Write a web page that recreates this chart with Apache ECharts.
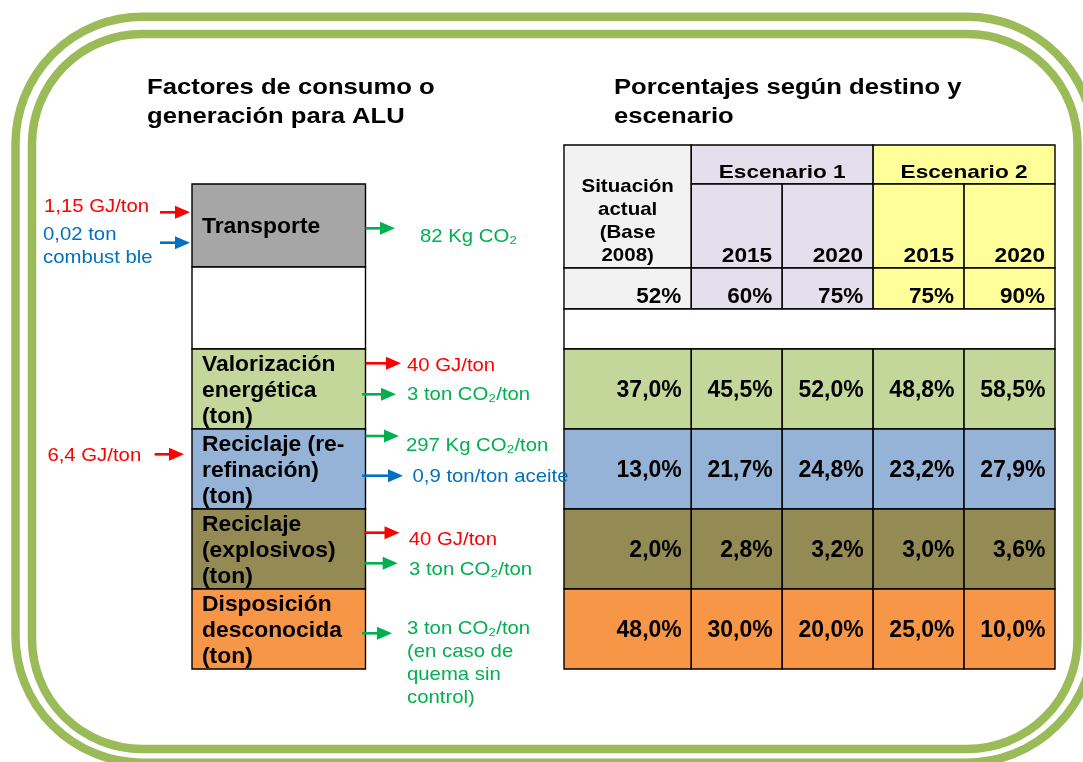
<!DOCTYPE html>
<html><head><meta charset="utf-8">
<script src="https://cdn.jsdelivr.net/npm/echarts@6/dist/echarts.min.js"></script>
<style>html,body{margin:0;padding:0;background:#fff}#c{width:1083px;height:762px}</style>
</head><body><div id="c"></div>
<script>
// ---------------- DATA ----------------
const titulos = ['Factores de consumo o\ngeneración para ALU', 'Porcentajes según destino y\nescenario'];
const etapaTransporte = 'Transporte';
const destinos = ['Valorización\nenergética\n(ton)', 'Reciclaje (re-\nrefinación)\n(ton)', 'Reciclaje\n(explosivos)\n(ton)', 'Disposición\ndesconocida\n(ton)'];
const situacionActual = 'Situación\nactual\n(Base\n2008)';
const escenarios = ['Escenario 1', 'Escenario 2'];
const anios = ['2015', '2020', '2015', '2020'];
const porcentajeRecuperado = [52, 60, 75, 75, 90];
const valorizacionEnergetica = [37.0, 45.5, 52.0, 48.8, 58.5];
const reciclajeRefinacion = [13.0, 21.7, 24.8, 23.2, 27.9];
const reciclajeExplosivos = [2.0, 2.8, 3.2, 3.0, 3.6];
const disposicionDesconocida = [48.0, 30.0, 20.0, 25.0, 10.0];
const entradasTransporte = ['1,15 GJ/ton', '0,02 ton\ncombust ble'];
const salidasTransporte = ['82 Kg CO₂'];
const salidasValorizacion = ['40 GJ/ton', '3 ton CO₂/ton'];
const entradasRefinacion = ['6,4 GJ/ton'];
const salidasRefinacion = ['297 Kg CO₂/ton', '0,9 ton/ton aceite'];
const salidasExplosivos = ['40 GJ/ton', '3 ton CO₂/ton'];
const salidasDisposicion = ['3 ton CO₂/ton\n(en caso de\nquema sin\ncontrol)'];

// ---------------- STYLE / LAYOUT ----------------
const FONT = '"Liberation Sans", Arial, Helvetica, sans-serif';
const RED = '#FF0000', BLUE = '#0070C0', GREEN = '#00B050', FRAME = '#9BBB59';
const rowColors = ['#C4D79B', '#95B3D7', '#948A54', '#F79646'];
const scenColors = ['#E4DFEC', '#FFFF99'];
const baseColor = '#F2F2F2';
const colEdges = [0, 1.4, 2.4, 3.4, 4.4, 5.4];
const rowEdges = [0, 0.975, 3.075, 4.1, 5.1, 7.1, 9.1, 11.1, 13.1];
const MID = 0.27;

function fmt(v) { return v.toFixed(1).replace('.', ',') + '%'; }

function txt(x, baseline, text, o) {
  const fs = o.fs, lh = o.lh || Math.round(fs * 1.2);
  const n = String(text).split('\n').length;
  const al = o.align || 'left';
  return {
    type: 'text', x: x, y: baseline - MID * fs + (n - 1) * lh / 2, scaleX: o.sx || 1, z: o.z || 100,
    style: {
      text: text, fontFamily: FONT, fontSize: fs, fontWeight: o.bold ? 'bold' : 'normal',
      fill: o.color || '#000', align: al, textAlign: al,
      verticalAlign: 'middle', textVerticalAlign: 'middle', lineHeight: lh
    }
  };
}
function arrow(x0, x1, y, color) {
  const hl = 15, hw = 6.5;
  return {
    type: 'group', z: 100, children: [
      { type: 'line', z: 100, shape: { x1: x0, y1: y, x2: x1 - hl + 1, y2: y }, style: { stroke: color, lineWidth: 2.6 } },
      { type: 'polygon', z: 100, shape: { points: [[x1 - hl, y - hw], [x1, y], [x1 - hl, y + hw]] }, style: { fill: color } }
    ]
  };
}

// ---------------- TABLE CELLS (built from data) ----------------
const tableCells = [];
tableCells.push({ c0: 0, c1: 1, r0: 0, r1: 2, fill: baseColor, text: situacionActual, kind: 'sit' });
escenarios.forEach((e, i) => tableCells.push({ c0: 1 + 2 * i, c1: 3 + 2 * i, r0: 0, r1: 1, fill: scenColors[i], text: e, kind: 'esc' }));
anios.forEach((a, i) => tableCells.push({ c0: 1 + i, c1: 2 + i, r0: 1, r1: 2, fill: scenColors[Math.floor(i / 2)], text: a, kind: 'year' }));
porcentajeRecuperado.forEach((v, i) => tableCells.push({ c0: i, c1: i + 1, r0: 2, r1: 3, fill: i === 0 ? baseColor : scenColors[Math.floor((i - 1) / 2)], text: v + '%', kind: 'pct' }));
tableCells.push({ c0: 0, c1: 5, r0: 3, r1: 4, fill: '#FFFFFF', text: '', kind: 'blank' });
[valorizacionEnergetica, reciclajeRefinacion, reciclajeExplosivos, disposicionDesconocida].forEach((arr, r) =>
  arr.forEach((v, i) => tableCells.push({ c0: i, c1: i + 1, r0: 4 + r, r1: 5 + r, fill: rowColors[r], text: fmt(v), kind: 'val' })));

// left column boxes
const leftBoxes = [{ y0: 0.975, y1: 3.05, fill: '#A6A6A6', text: etapaTransporte }, { y0: 3.05, y1: rowEdges[4], fill: '#FFFFFF', text: '' }];
destinos.forEach((d, r) => leftBoxes.push({ y0: rowEdges[4 + r], y1: rowEdges[5 + r], fill: rowColors[r], text: d }));

function tableText(c, x, y, w, h) {
  switch (c.kind) {
    case 'sit': return txt(x + w / 2, y + 47, c.text, { fs: 19, lh: 23, bold: true, align: 'center', sx: 1.08 });
    case 'esc': return txt(x + w / 2, y + 32.7, c.text, { fs: 19, bold: true, align: 'center', sx: 1.19 });
    case 'year': return txt(x + w - 10, y + 78, c.text, { fs: 21, bold: true, align: 'right', sx: 1.08 });
    case 'pct': return txt(x + w - 10, y + 35.3, c.text, { fs: 22.5, bold: true, align: 'right' });
    case 'val': return txt(x + w - 9.5, y + 47.7, c.text, { fs: 23, bold: true, align: 'right' });
  }
  return null;
}

// ---------------- GRAPHICS ----------------
const graphics = [
  { type: 'rect', z: 0, shape: { x: 32, y: 34, width: 1045.5, height: 715, r: 110 }, style: { fill: 'none', stroke: FRAME, lineWidth: 8.5 } },
  { type: 'rect', z: 0, shape: { x: 15.5, y: 16.7, width: 1078.5, height: 746, r: 127 }, style: { fill: 'none', stroke: FRAME, lineWidth: 8.5 } },
  txt(147, 94, titulos[0], { fs: 22, lh: 29, bold: true, sx: 1.165 }),
  txt(614, 94, titulos[1], { fs: 22, lh: 29, bold: true, sx: 1.165 }),
  // transporte
  txt(44, 211.7, entradasTransporte[0], { fs: 19, sx: 1.07, color: RED }),
  txt(43, 240, entradasTransporte[1], { fs: 19, lh: 23, sx: 1.07, color: BLUE }),
  arrow(160, 190, 212.3, RED), arrow(160, 190, 242.7, BLUE),
  arrow(365.5, 395, 228.3, GREEN),
  txt(420, 241.7, salidasTransporte[0], { fs: 19, sx: 1.07, color: GREEN }),
  // valorización
  arrow(365.5, 401, 363.3, RED), txt(407, 370.7, salidasValorizacion[0], { fs: 19, sx: 1.07, color: RED }),
  arrow(362, 396, 394.3, GREEN), txt(407, 400, salidasValorizacion[1], { fs: 19, sx: 1.07, color: GREEN }),
  // refinación
  txt(47.4, 460.7, entradasRefinacion[0], { fs: 19, sx: 1.07, color: RED }),
  arrow(154.6, 184, 454.3, RED),
  arrow(365.5, 399, 436, GREEN), txt(406, 451, salidasRefinacion[0], { fs: 19, sx: 1.07, color: GREEN }),
  arrow(362, 403, 475.7, BLUE), txt(412.5, 481.7, salidasRefinacion[1], { fs: 19, sx: 1.07, color: BLUE }),
  // explosivos
  arrow(364.4, 399.5, 532.7, RED), txt(408.8, 545, salidasExplosivos[0], { fs: 19, sx: 1.07, color: RED }),
  arrow(364.4, 397.7, 563.3, GREEN), txt(409, 575, salidasExplosivos[1], { fs: 19, sx: 1.07, color: GREEN }),
  // disposición
  arrow(362, 392, 633.3, GREEN), txt(407, 634, salidasDisposicion[0], { fs: 19, lh: 22.9, sx: 1.07, color: GREEN })
];

const chart = echarts.init(document.getElementById('c'), null, { renderer: 'canvas' });
chart.setOption({
  animation: false,
  backgroundColor: '#FFFFFF',
  grid: [
    { left: 564, top: 145, width: 491, height: 524 },
    { left: 192, top: 184, width: 173.5, height: 485 }
  ],
  xAxis: [
    { gridIndex: 0, type: 'value', min: 0, max: colEdges[5], show: false },
    { gridIndex: 1, type: 'value', min: 0, max: 1, show: false }
  ],
  yAxis: [
    { gridIndex: 0, type: 'value', min: 0, max: rowEdges[8], inverse: true, show: false },
    { gridIndex: 1, type: 'value', min: 0.975, max: rowEdges[8], inverse: true, show: false }
  ],
  series: [
    {
      type: 'custom', xAxisIndex: 0, yAxisIndex: 0, clip: false, z: 5,
      data: tableCells.map(c => [colEdges[c.c0], colEdges[c.c1], rowEdges[c.r0], rowEdges[c.r1]]),
      encode: { x: [0, 1], y: [2, 3] },
      renderItem: function (params, api) {
        const c = tableCells[params.dataIndex];
        const p0 = api.coord([api.value(0), api.value(2)]);
        const p1 = api.coord([api.value(1), api.value(3)]);
        const x = p0[0], y = p0[1], w = p1[0] - p0[0], h = p1[1] - p0[1];
        const children = [{ type: 'rect', shape: { x: x, y: y, width: w, height: h }, style: { fill: c.fill, stroke: '#000', lineWidth: 1.4 } }];
        const t = tableText(c, x, y, w, h);
        if (t) children.push(t);
        return { type: 'group', children: children };
      }
    },
    {
      type: 'custom', xAxisIndex: 1, yAxisIndex: 1, clip: false, z: 5,
      data: leftBoxes.map(b => [0, 1, b.y0, b.y1]),
      encode: { x: [0, 1], y: [2, 3] },
      renderItem: function (params, api) {
        const b = leftBoxes[params.dataIndex];
        const p0 = api.coord([api.value(0), api.value(2)]);
        const p1 = api.coord([api.value(1), api.value(3)]);
        const x = p0[0], y = p0[1], w = p1[0] - p0[0], h = p1[1] - p0[1];
        const children = [{ type: 'rect', shape: { x: x, y: y, width: w, height: h }, style: { fill: b.fill, stroke: '#000', lineWidth: 1.4 } }];
        if (b.text) {
          const n = b.text.split('\n').length;
          const lh = 26;
          const firstBase = y + h / 2 + 0.35 * 22 - (n - 1) * lh / 2;
          children.push(txt(x + 10, firstBase, b.text, { fs: 22, lh: lh, bold: true, sx: 1.04 }));
        }
        return { type: 'group', children: children };
      }
    }
  ],
  graphic: { elements: graphics }
});
</script>
</body></html>
